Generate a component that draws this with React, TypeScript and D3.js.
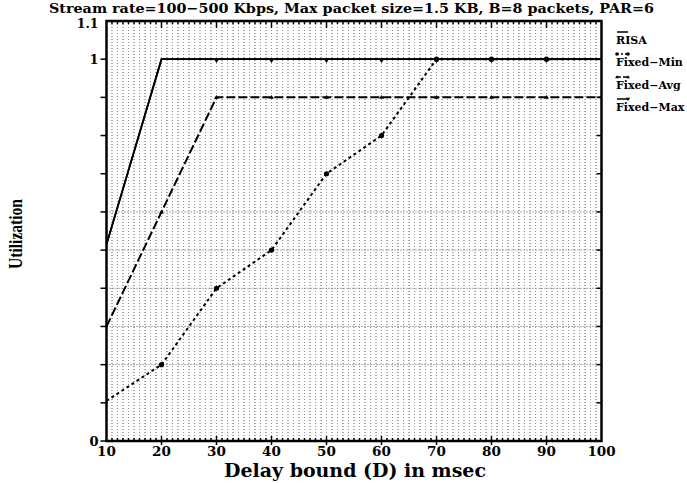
import React from 'react';
import * as d3 from 'd3';

// delay bound in msec
const delays = [10, 20, 30, 40, 50, 60, 70, 80, 90, 100];
// utilization per scheme
const risa = [0.515, 1, 1, 1, 1, 1, 1, 1, 1, 1];
const fixedMin = [0.105, 0.2, 0.4, 0.5, 0.7, 0.8, 1, 1, 1, 1];
const fixedAvg = [0.3, 0.6, 0.9, 0.9, 0.9, 0.9, 0.9, 0.9, 0.9, 0.9];
const fixedMax = [0.515, 1, 1, 1, 1, 1, 1, 1, 1, 1];
const xTickLabels = [10, 20, 30, 40, 50, 60, 70, 80, 90, 100];
const yTickLabels = [0, 1, 1.1];

const W = 687;
const H = 483;
const serif = '"DejaVu Serif", "Liberation Serif", serif';

const App = () => {
    const x = d3.scaleLinear().domain([10, 100]).range([106.5, 601.5]);
    const y = d3.scaleLinear().domain([0, 1.1]).range([441, 21]);

    const line = d3.line<[number, number]>()
        .x(d => x(d[0]))
        .y(d => y(d[1]));
    const pts = (vals: number[]) => delays.map((d, i) => [d, vals[i]] as [number, number]);

    const minorX = d3.range(11, 100, 1);
    const yTicks = d3.range(0, 11).map(i => i / 10);
    const hGrid = [0.2, 0.3, 0.4, 0.5, 0.6];

    const inner = delays.filter(d => d > 10 && d < 100);

    const tri = (cx: number, cy: number, down: boolean, s = 3) =>
        down
            ? `M${cx - s},${cy - s * 0.6}L${cx + s},${cy - s * 0.6}L${cx},${cy + s * 0.9}Z`
            : `M${cx - s},${cy + s * 0.6}L${cx + s},${cy + s * 0.6}L${cx},${cy - s * 0.9}Z`;

    // legend rows: text baseline, sample line sits above it
    const legend = [
        { label: 'RISA', y: 44, dash: 'none', mark: 'none' },
        { label: 'Fixed\u2212Min', y: 66, dash: '2,2', mark: 'dot' },
        { label: 'Fixed\u2212Avg', y: 89, dash: '4,2', mark: 'up' },
        { label: 'Fixed\u2212Max', y: 111, dash: 'none', mark: 'down' },
    ];

    return (
        <svg width={W} height={H} style={{ position: 'absolute', left: 0, top: 0, background: '#fff' }}>
            <defs>
                <clipPath id="plot">
                    <rect x={x(10)} y={y(1.1)} width={x(100) - x(10)} height={y(0) - y(1.1)} />
                </clipPath>
            </defs>

            {/* vertical dotted grid */}
            {minorX.map((v, i) => (
                <line key={'vg' + v} x1={x(v)} x2={x(v)} y1={y(1.1)} y2={y(0)}
                    stroke={i % 2 === 0 ? '#555' : '#999'} strokeWidth={1} strokeDasharray="1,2" />
            ))}
            {/* horizontal dotted grid */}
            {hGrid.map(v => (
                <line key={'hg' + v} x1={x(10)} x2={x(100)} y1={y(v)} y2={y(v)}
                    stroke="#555" strokeWidth={1} strokeDasharray="1,2" />
            ))}

            {/* series */}
            <g clipPath="url(#plot)">
                <path d={line(pts(fixedMin)) || ''} fill="none" stroke="#000" strokeWidth={2} strokeDasharray="3,3" />
                <path d={line(pts(fixedAvg)) || ''} fill="none" stroke="#000" strokeWidth={2} strokeDasharray="9,3" />
                <path d={line(pts(risa)) || ''} fill="none" stroke="#000" strokeWidth={1.8} />
                <path d={line(pts(fixedMax)) || ''} fill="none" stroke="#000" strokeWidth={1.8} />
                {inner.map((d, i) => (
                    <circle key={'mn' + d} cx={x(d)} cy={y(fixedMin[i + 1])} r={2.6} fill="#000" />
                ))}
                {inner.map((d, i) => (
                    <path key={'av' + d} d={tri(x(d), y(fixedAvg[i + 1]), false, 2.5)} fill="#000" />
                ))}
                {inner.filter(d => d > 20).map(d => (
                    <path key={'mx' + d} d={tri(x(d), y(fixedMax[delays.indexOf(d)]) + 1, true, 3)} fill="#000" />
                ))}
            </g>

            {/* frame */}
            <rect x={x(10)} y={y(1.1)} width={x(100) - x(10)} height={y(0) - y(1.1)}
                fill="none" stroke="#000" strokeWidth={2.5} />

            {/* left ticks (outward) and right ticks (inward) */}
            {yTicks.map(v => (
                <g key={'yt' + v}>
                    <line x1={x(10) - 6} x2={x(10)} y1={y(v)} y2={y(v)} stroke="#000" strokeWidth={1.5} />
                    <line x1={x(100) - 5} x2={x(100)} y1={y(v)} y2={y(v)} stroke="#000" strokeWidth={1.5} />
                </g>
            ))}
            {/* top and bottom minor ticks */}
            {minorX.map(v => (
                <g key={'xt' + v}>
                    <line x1={x(v)} x2={x(v)} y1={y(1.1)} y2={y(1.1) + (v % 10 === 0 ? 7 : 3)} stroke="#000" strokeWidth={1.5} />
                    <line x1={x(v)} x2={x(v)} y1={y(0)} y2={y(0) - (v % 10 === 0 ? 5 : 3)} stroke="#000" strokeWidth={1.5} />
                    {v % 10 === 0 && <line x1={x(v)} x2={x(v)} y1={y(0)} y2={y(0) + 4} stroke="#000" strokeWidth={1.5} />}
                </g>
            ))}

            {/* tick labels */}
            {xTickLabels.map(v => (
                <text key={'xl' + v} x={x(v)} y={456} textAnchor="middle" fontFamily={serif}
                    fontWeight="bold" fontSize={13.5}>{v}</text>
            ))}
            {yTickLabels.map(v => (
                <text key={'yl' + v} x={x(10) - 8} y={v === 1.1 ? 27.5 : y(v) + 5} textAnchor="end" fontFamily={serif}
                    fontWeight="bold" fontSize={v === 1.1 ? 12.5 : 13}>{v}</text>
            ))}

            {/* titles */}
            <text x={351.5} y={12.5} textAnchor="middle" fontFamily={serif} fontWeight="bold" fontSize={13}
                textLength={605} lengthAdjust="spacingAndGlyphs">
                Stream rate=100{'\u2212'}500 Kbps, Max packet size=1.5 KB, B=8 packets, PAR=6
            </text>
            <text x={355} y={477} textAnchor="middle" fontFamily={serif} fontWeight="bold" fontSize={18.5}
                textLength={262} lengthAdjust="spacingAndGlyphs">
                Delay bound (D) in msec
            </text>
            <text transform="translate(22,234) rotate(-90)" textAnchor="middle"
                fontFamily='"Liberation Serif", serif' fontWeight="bold" fontSize={19}
                textLength={70} lengthAdjust="spacingAndGlyphs">Utilization</text>

            {/* legend */}
            {legend.map(l => {
                const ly = l.y - 12;
                return (
                    <g key={l.label}>
                        <line x1={617} x2={628} y1={ly} y2={ly} stroke="#000" strokeWidth={1.5}
                            strokeDasharray={l.dash === 'none' ? undefined : l.dash} />
                        {l.mark === 'dot' && [617, 628].map(cx => <circle key={cx} cx={cx} cy={ly} r={1.8} fill="#000" />)}
                        {l.mark === 'up' && [617, 628].map(cx => <path key={cx} d={tri(cx, ly, false, 2)} fill="#000" />)}
                        {l.mark === 'down' && [628].map(cx => <path key={cx} d={tri(cx, ly, true, 2.2)} fill="#000" />)}
                        <text x={616} y={l.y} fontFamily={serif} fontWeight="bold" fontSize={11}>{l.label}</text>
                    </g>
                );
            })}
        </svg>
    );
};

export default App;
